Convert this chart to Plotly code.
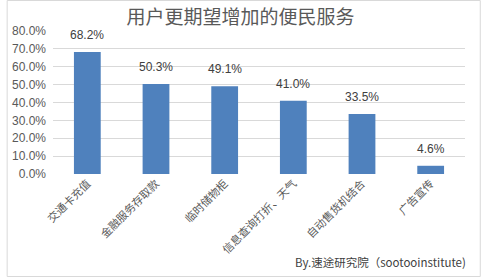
import plotly.graph_objects as go

categories = ["交通卡充值", "金融服务存取款", "临时储物柜", "信息查询打折、天气", "自动售货机结合", "广告宣传"]
values = [0.682, 0.503, 0.491, 0.410, 0.335, 0.046]
tick_vals = [0, 0.1, 0.2, 0.3, 0.4, 0.5, 0.6, 0.7, 0.8]
tick_text = ["0.0%", "10.0%", "20.0%", "30.0%", "40.0%", "50.0%", "60.0%", "70.0%", "80.0%"]

W, H = 481, 277
ml, mr, mt, mb = 47, 16, 31, 103
pw, ph = W - ml - mr, H - mt - mb

fig = go.Figure(go.Bar(
    x=categories, y=values,
    marker=dict(color="#4f81bd", line=dict(width=0)),
))

label_annotations = [
    dict(x=c, y=v, xref="x", yref="y", text=f"{v*100:.1f}%", showarrow=False,
         yanchor="bottom", yshift=8,
         font=dict(family="Liberation Sans", size=12, color="#404040"))
    for c, v in zip(categories, values)
]

fig.update_layout(
    width=W, height=H,
    margin=dict(l=ml, r=mr, t=mt, b=mb),
    paper_bgcolor="white", plot_bgcolor="white",
    showlegend=False, bargap=0.61,
    font=dict(family="Noto Sans CJK SC", color="#595959"),
    title=dict(text="用户更期望增加的便民服务", x=0.5, xanchor="center", y=1 - 17 / H, yanchor="middle",
               font=dict(family="Noto Sans CJK SC", size=19, color="#595959")),
    xaxis=dict(tickangle=-45, showgrid=False, showline=False, ticks="",
               tickfont=dict(family="Noto Sans CJK SC", size=11, color="#595959")),
    yaxis=dict(range=[0, 0.8], tickvals=tick_vals, ticktext=tick_text,
               showgrid=True, gridcolor="#d9d9d9", gridwidth=1, zeroline=False, showline=False,
               ticks="", ticklabelstandoff=6,
               tickfont=dict(family="Liberation Sans", size=12, color="#595959")),
    shapes=[dict(type="rect", xref="paper", yref="paper",
                 x0=(0.5 - ml) / pw, x1=(W - 0.5 - ml) / pw,
                 y0=(0.5 - mb) / ph, y1=(H - 0.5 - mb) / ph,
                 line=dict(color="#d9d9d9", width=1), layer="below")],
    annotations=label_annotations + [
        dict(text="By.速途研究院（sootooinstitute)", xref="paper", yref="paper",
             x=(468 - ml) / pw, y=(H - mb - 262) / ph, xanchor="right", yanchor="middle",
             showarrow=False, font=dict(family="Noto Sans CJK SC", size=11.5, color="#404040"))],
)

fig.write_html("out.html")
